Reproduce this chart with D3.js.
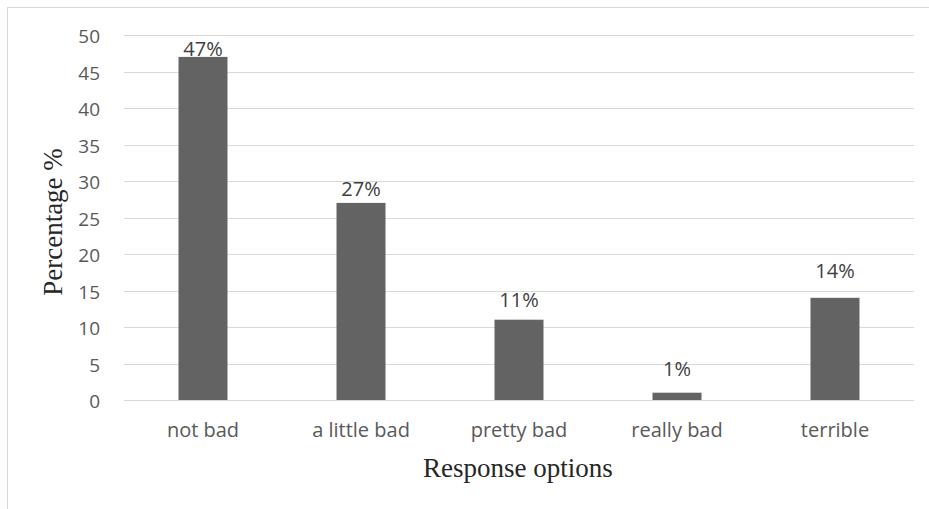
<!DOCTYPE html>
<html>
<head>
<meta charset="utf-8">
<script src="https://cdn.jsdelivr.net/npm/d3@7"></script>
<style>
  html, body { margin: 0; padding: 0; background: #fff; }
  svg { display: block; }
</style>
</head>
<body>
<svg id="chart" width="929" height="509"></svg>
<script>
const categories = ["not bad", "a little bad", "pretty bad", "really bad", "terrible"];
const values = [47, 27, 11, 1, 14];
const valueLabels = ["47%", "27%", "11%", "1%", "14%"];
const yTicks = [0, 5, 10, 15, 20, 25, 30, 35, 40, 45, 50];
const xTitle = "Response options";
const yTitle = "Percentage %";

const svg = d3.select("#chart");
const W = 929, H = 509;
const plot = { left: 124, right: 914, top: 35, bottom: 400 };
// label gaps above each bar (layout, as placed in the original)
const labelGap = [1, 7, 13, 17, 20];

// outer chart border (only top and left visible in crop)
svg.append("rect")
  .attr("x", 7.5).attr("y", 7.5)
  .attr("width", W + 20).attr("height", H + 20)
  .attr("fill", "#fff").attr("stroke", "#d9d9d9").attr("stroke-width", 1);

const x = d3.scaleBand().domain(categories).range([plot.left, plot.right]).padding(0);
const y = d3.scaleLinear().domain([0, 50]).range([plot.bottom, plot.top]);
const barW = x.bandwidth() * 0.31;

const sans = "'Open Sans', 'Noto Sans', sans-serif";
const serif = "'Liberation Serif', 'DejaVu Serif', serif";
const textColor = "#595959";

// gridlines
svg.append("g").selectAll("line").data(yTicks).join("line")
  .attr("x1", plot.left).attr("x2", plot.right)
  .attr("y1", d => Math.round(y(d)) + 0.5).attr("y2", d => Math.round(y(d)) + 0.5)
  .attr("stroke", "#d9d9d9").attr("stroke-width", 1);

// y axis labels
const yAxis = d3.axisLeft(y).tickValues(yTicks).tickSize(0).tickPadding(0);
const gy = svg.append("g").attr("transform", `translate(100,0)`).call(yAxis);
gy.select(".domain").remove();
gy.selectAll("text").attr("font-family", sans).attr("font-size", 19)
  .attr("fill", textColor).attr("dy", "0.42em");

// x axis labels
const xAxis = d3.axisBottom(x).tickSize(0).tickPadding(0);
const gx = svg.append("g").attr("transform", `translate(0,${plot.bottom + 23})`).call(xAxis);
gx.select(".domain").remove();
gx.selectAll("text").attr("font-family", sans).attr("font-size", 20).attr("fill", textColor);

// bars
svg.append("g").selectAll("rect").data(values).join("rect")
  .attr("x", (d, i) => x(categories[i]) + x.bandwidth() / 2 - barW / 2)
  .attr("width", barW)
  .attr("y", d => y(d))
  .attr("height", d => y(0) - y(d))
  .attr("fill", "#636363");

// value labels
svg.append("g").selectAll("text").data(values).join("text")
  .attr("x", (d, i) => x(categories[i]) + x.bandwidth() / 2)
  .attr("y", (d, i) => y(d) - labelGap[i])
  .attr("text-anchor", "middle")
  .attr("font-family", sans).attr("font-size", 20).attr("fill", "#404040")
  .text((d, i) => valueLabels[i]);

// axis titles
svg.append("text")
  .attr("x", 518).attr("y", 477)
  .attr("text-anchor", "middle")
  .attr("font-family", serif).attr("font-size", 27).attr("fill", "#262626")
  .text(xTitle);

svg.append("text")
  .attr("transform", `translate(62,222) rotate(-90)`)
  .attr("text-anchor", "middle")
  .attr("font-family", serif).attr("font-size", 27).attr("fill", "#262626")
  .text(yTitle);
</script>
</body>
</html>
